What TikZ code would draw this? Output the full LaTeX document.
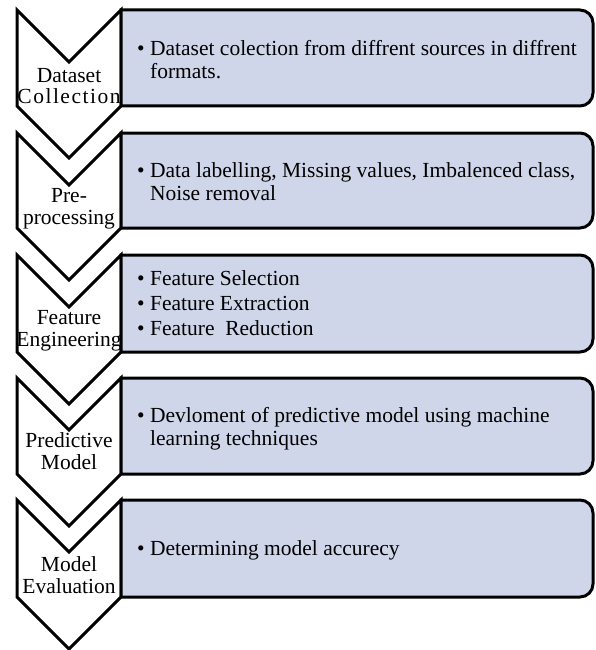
\documentclass[tikz,border=0pt]{standalone}
\usepackage{fontspec}
\setmainfont{Liberation Serif}
\definecolor{boxfill}{RGB}{208,214,234}
\begin{document}
\begin{tikzpicture}[x=1pt,y=-1pt,
  stage/.style={draw=black,line width=3pt,fill=white,line join=miter},
  detail/.style={draw=black,line width=3pt,fill=boxfill},
  lbl/.style={font=\fontsize{21.5}{21.5}\selectfont,align=center,anchor=base,inner sep=0pt},
  txt/.style={font=\fontsize{21.5}{23}\selectfont,align=left,anchor=base west,inner sep=0pt}]
\useasboundingbox (0,0) rectangle (596,650);
% chevrons and detail boxes, one pair per stage
\foreach \t/\b in {10/106,133/228,255/352,378/474,500/597} {
  \draw[stage] (17,\t) -- (69,\t+52) -- (121,\t) -- (121,\b) -- (69,\b+52) -- (17,\b) -- cycle;
  \draw[detail] (121,\t) [rounded corners=13pt] -- (593,\t) -- (593,\b) [sharp corners] -- (121,\b) -- cycle;
}
% stage names (anchored at the baseline of the last line)
\node[lbl] (s1) at (69,104) {Dataset\\{\addfontfeature{LetterSpace=7}Collection}};
\node[lbl] (s2) at (69,224) {Pre-\\processing};
\node[lbl] (s3) at (69,346) {Feature\\Engineering};
\node[lbl] (s4) at (69,469) {Predictive\\Model};
\node[lbl] (s5) at (69,593) {Model\\Evaluation};
% stage details (anchored at the baseline of the last line)
\node[txt] (d1) at (137,79)  {\textbullet\ Dataset colection from diffrent sources in diffrent\\\phantom{\textbullet\ }formats.};
\node[txt] (d2) at (137,200) {\textbullet\ Data labelling, Missing values, Imbalenced class,\\\phantom{\textbullet\ }Noise removal};
\node[txt,font=\fontsize{21.5}{25}\selectfont] (d3) at (137,335) {\textbullet\ Feature Selection\\\textbullet\ Feature Extraction\\\textbullet\ Feature\ \ Reduction};
\node[txt] (d4) at (137,445) {\textbullet\ Devloment of predictive model using machine\\\phantom{\textbullet\ }learning techniques};
\node[txt] (d5) at (137,555) {\textbullet\ Determining model accurecy};
\end{tikzpicture}
\end{document}
